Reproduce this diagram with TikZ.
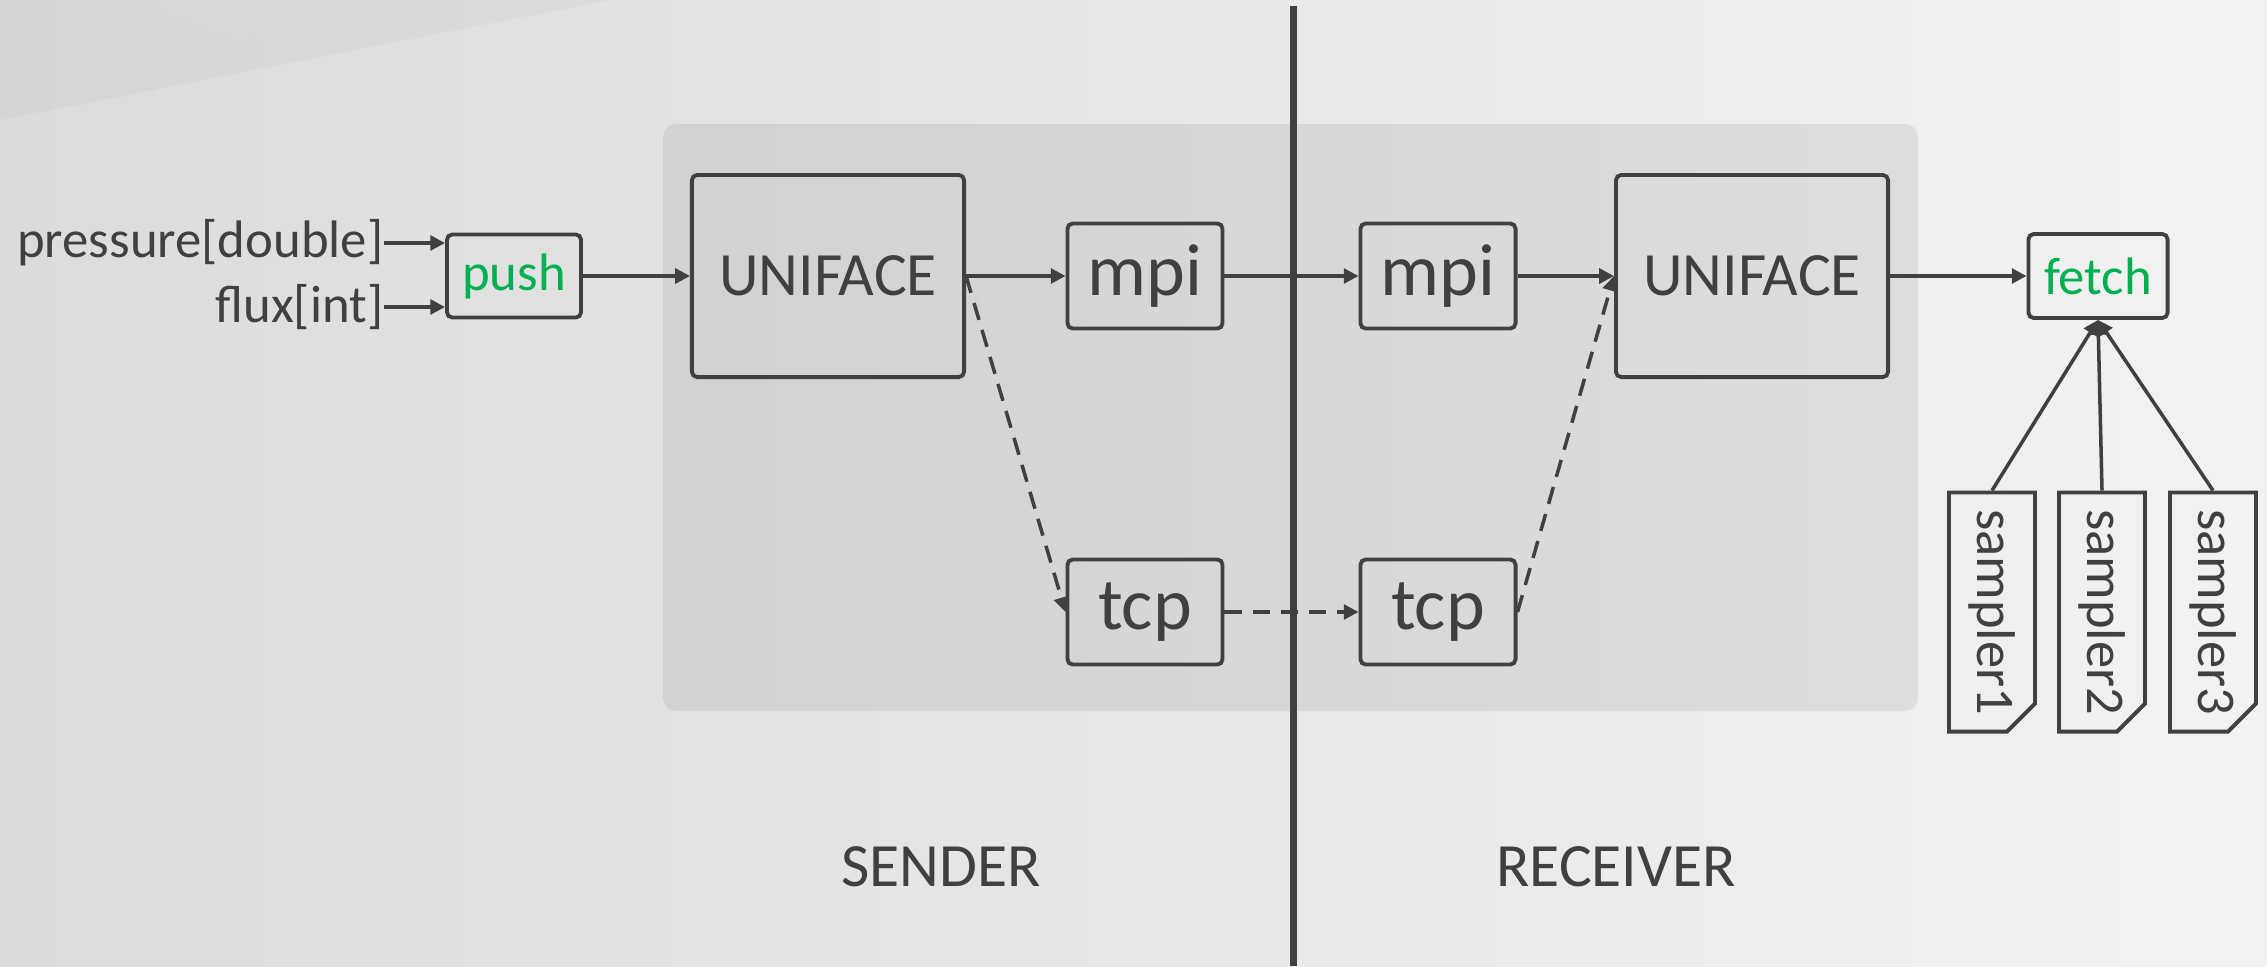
\documentclass[tikz,border=0pt]{standalone}
\usepackage{fontspec}
\setmainfont{Carlito}
\usetikzlibrary{arrows.meta,shapes.misc}
\definecolor{linea}{HTML}{404040}
\definecolor{verde}{HTML}{00B050}
\definecolor{fondoI}{HTML}{DCDCDC}
\definecolor{fondoD}{HTML}{F2F2F2}
\begin{document}
\begin{tikzpicture}[x=0.01cm,y=-0.01cm,
    caja/.style={draw=linea,line width=1.1pt,rounded corners=1.5pt,text=linea,inner sep=0pt},
    grande/.style={caja,minimum width=2.72cm,minimum height=2.02cm,font=\fontsize{17.5}{20}\selectfont},
    media/.style={caja,minimum width=1.55cm,minimum height=1.05cm,font=\fontsize{21}{24}\selectfont},
    chica/.style={caja,text=verde,font=\fontsize{15}{18}\selectfont},
    muestra/.style={draw=linea,line width=1.1pt,text=linea,inner sep=0pt,
      shape=chamfered rectangle,chamfered rectangle corners=north east,
      chamfered rectangle xsep=0.14cm,chamfered rectangle ysep=0.14cm,
      rotate=-90,minimum width=2.39cm,minimum height=0.86cm,font=\fontsize{15.5}{18}\selectfont},
    etiqueta/.style={text=linea,inner sep=0pt,font=\fontsize{15}{18}\selectfont},
    lado/.style={text=linea,inner sep=0pt,font=\fontsize{17.5}{20}\selectfont},
    flecha/.style={draw=linea,line width=1pt,-{Triangle[length=4.2pt,width=4.2pt]}},
    trazos/.style={flecha,dash pattern=on 5pt off 3pt}]

    % Fondo
    \shade[left color=fondoI,right color=fondoD] (0,0) rectangle (2267,966);
    \fill[black,opacity=0.025] (0,0) -- (610,0) -- (0,120) -- cycle;
    \fill[white,opacity=0.04] (130,0) -- (330,0) -- (240,45) -- cycle;
    \useasboundingbox (0,0) rectangle (2267,966);

    % Zona comun
    \fill[black,opacity=0.07,rounded corners=3.7pt] (663,124) rectangle (1918,711);

    % Separacion emisor / receptor
    \draw[linea,line width=2pt] (1293,6) -- (1293,966);

    % Cajas
    \node[grande] (uniI) at (828,276) {UNIFACE};
    \node[media] (mpiI) at (1145,276) {mpi};
    \node[media] (tcpI) at (1145,612) {tcp};
    \node[media] (mpiD) at (1438,276) {mpi};
    \node[media] (tcpD) at (1438,612) {tcp};
    \node[grande] (uniD) at (1752,276) {UNIFACE};
    \node[chica,minimum width=1.34cm,minimum height=0.83cm] (push) at (514,276) {push};
    \node[chica,minimum width=1.39cm,minimum height=0.84cm] (fetch) at (2098,276) {fetch};

    % Entradas
    \node[etiqueta,anchor=east] (pres) at (384,243) {pressure[double]};
    \node[etiqueta,anchor=east] (flux) at (384,307) {flux[int]};

    % Muestreadores
    \node[muestra] (s1) at (1992,612) {sampler1};
    \node[muestra] (s2) at (2102,612) {sampler2};
    \node[muestra] (s3) at (2213,612) {sampler3};

    % Rotulos
    \node[lado] (emisor) at (941,867) {SENDER};
    \node[lado] (receptor) at (1616,867) {RECEIVER};

    % Flechas
    \draw[flecha] (pres.east) -- (pres.east -| push.west);
    \draw[flecha] (flux.east) -- (flux.east -| push.west);
    \draw[flecha] (push) -- (uniI);
    \draw[flecha] (uniI) -- (mpiI);
    \draw[flecha] (mpiI) -- (mpiD);
    \draw[flecha] (mpiD) -- (uniD);
    \draw[flecha] (uniD) -- (fetch);
    \draw[trazos] (uniI.east) -- (tcpI.west);
    \draw[trazos] (tcpI) -- (tcpD);
    \draw[trazos] (tcpD.east) -- (uniD.west);
    \foreach \s in {s1,s2,s3}
        \draw[flecha] (\s.west) -- (fetch.south);
\end{tikzpicture}
\end{document}
